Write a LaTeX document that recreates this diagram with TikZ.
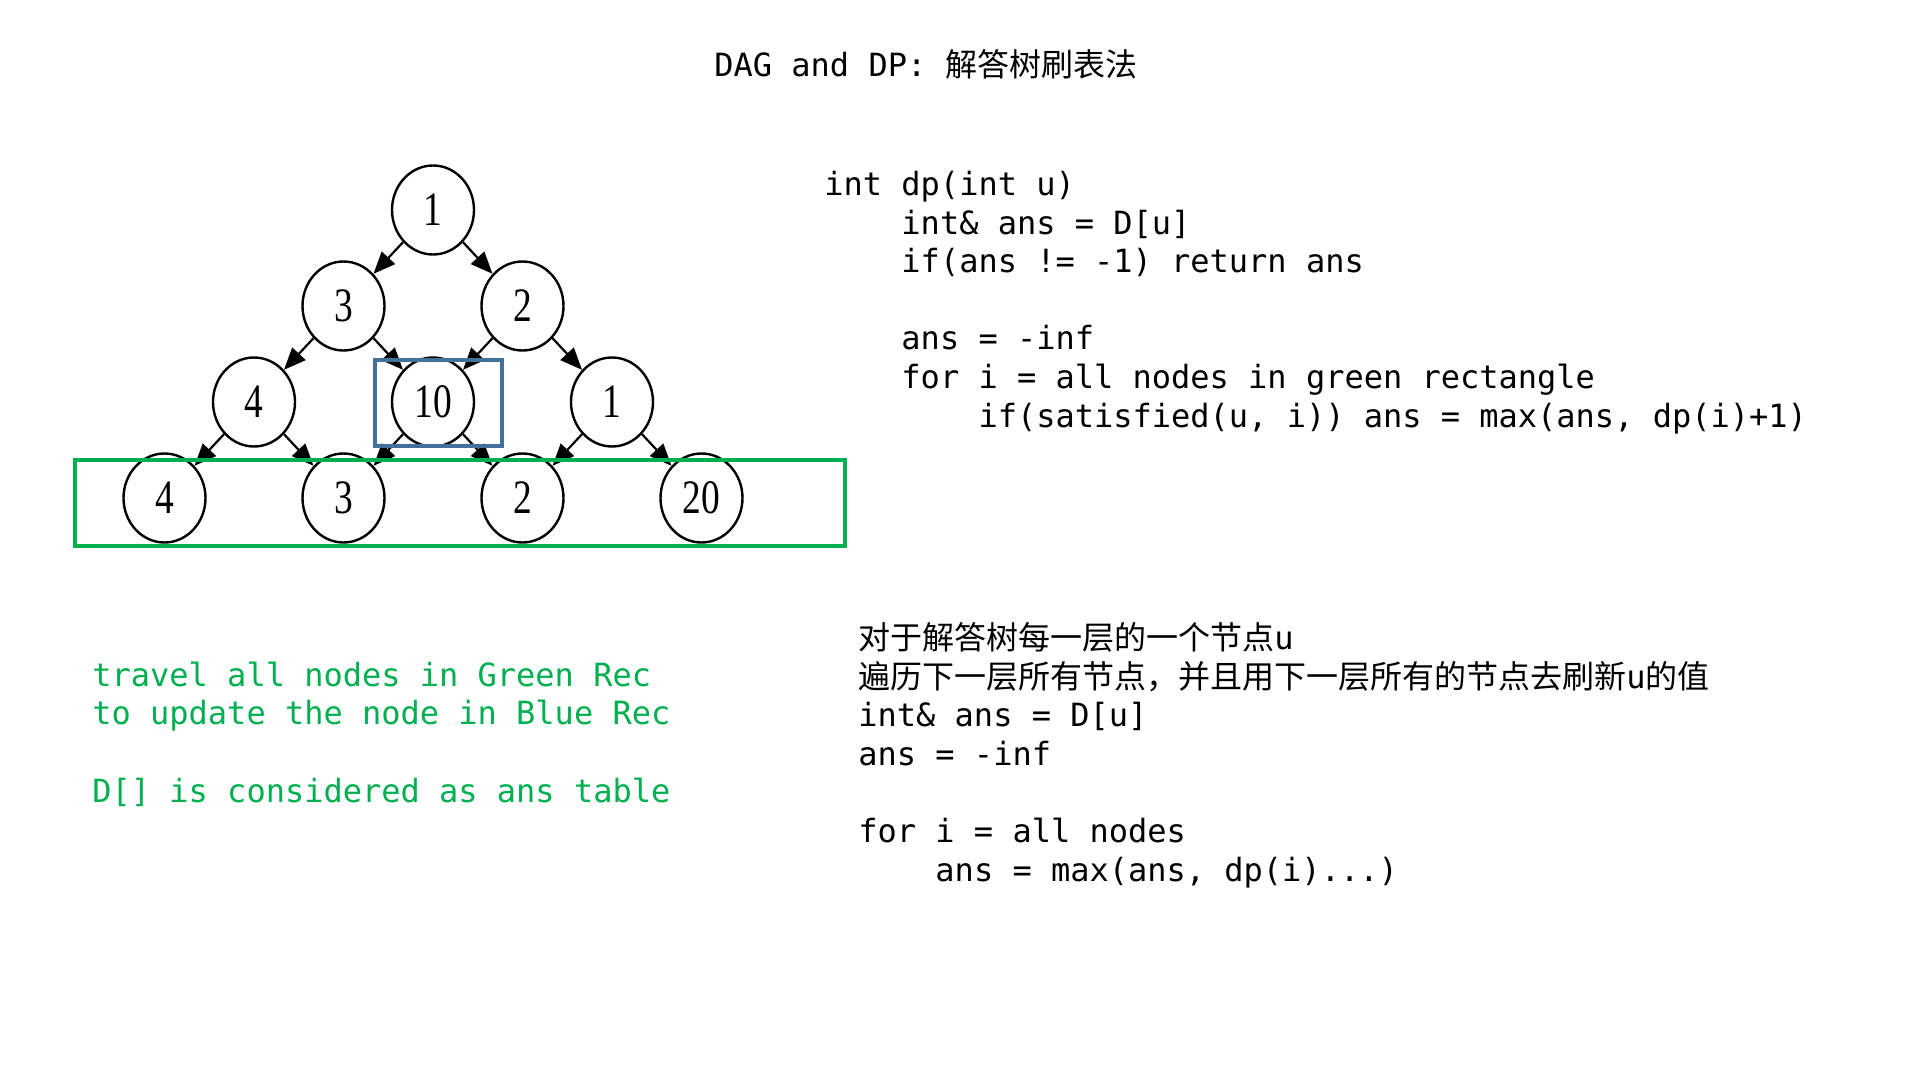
\documentclass[tikz,border=0pt]{standalone}
\usepackage{fontspec}
\usepackage{graphicx}
\setmainfont{Liberation Serif}
\setmonofont{DejaVu Sans Mono}
\newfontfamily\cjk{Noto Sans CJK SC}
\usetikzlibrary{positioning,shapes.geometric,arrows.meta}

\definecolor{recgreen}{RGB}{0,176,80}
\definecolor{recblue}{RGB}{65,113,156}
\newcommand\ind{\hphantom{xxxx}}
\newcommand\codefont{\ttfamily\fontsize{16}{19.3}\selectfont}
\newcommand\dig[1]{\scalebox{0.78}[1]{#1}}

\tikzset{
  vtx/.style={ellipse, draw, line width=1.2pt, minimum width=41pt,
    minimum height=44.5pt, inner sep=0pt, font=\fontsize{24}{24}\selectfont},
  dep/.style={-{Triangle[length=11pt,width=9pt]}, line width=1.1pt},
  code/.style={anchor=base west, align=left, inner sep=0pt, font=\codefont},
}

\begin{document}
\begin{tikzpicture}[x=0.5pt, y=-0.5pt, node distance=48pt and 44.75pt, on grid]

    \useasboundingbox (0,0) rectangle (1920,1080);

    % Title
    \node[code] (title) at (714,77) {DAG and DP: {\cjk 解答树刷表法}};

    % Define nodes
    \node[vtx]                        (r)   at (433,210) {\dig{1}};
    \node[vtx, below left=of r]       (a3)  {\dig{3}};
    \node[vtx, below right=of r]      (a2)  {\dig{2}};
    \node[vtx, below left=of a3]      (b4)  {\dig{4}};
    \node[vtx, below right=of a3]     (b10) {\dig{10}};
    \node[vtx, below right=of a2]     (b1)  {\dig{1}};
    \node[vtx, below left=of b4]      (c4)  {\dig{4}};
    \node[vtx, below right=of b4]     (c3)  {\dig{3}};
    \node[vtx, below right=of b10]    (c2)  {\dig{2}};
    \node[vtx, below right=of b1]     (c20) {\dig{20}};

    % Connect the nodes
    \foreach \p/\c in {r/a3, r/a2, a3/b4, a3/b10, a2/b10, a2/b1,
                       b4/c4, b4/c3, b10/c3, b10/c2, b1/c2, b1/c20}
      \draw[dep] (\p) -- (\c);

    % Rectangles
    \draw[recgreen, line width=2.4pt] (75,460) rectangle (845,546);
    \draw[recblue, line width=1.9pt] (375,360) rectangle (502,446);

    % Code (anchored at the baseline of the last line)
    \node[code] (dpcode) at (824,427) {int dp(int u)\\
      \ind int\& ans = D[u]\\
      \ind if(ans != -1) return ans\\[19.3pt]
      \ind ans = -inf\\
      \ind for i = all nodes in green rectangle\\
      \ind\ind if(satisfied(u, i)) ans = max(ans, dp(i)+1)};

    \node[code, text=recgreen] (note) at (92,802) {travel all nodes in Green Rec\\
      to update the node in Blue Rec\\[19.3pt]
      D[] is considered as ans table};

    \node[code] (steps) at (858,881) {{\cjk 对于解答树每一层的一个节点}u\\
      {\cjk 遍历下一层所有节点，并且用下一层所有的节点去刷新}u{\cjk 的值}\\
      int\& ans = D[u]\\
      ans = -inf\\[19.3pt]
      for i = all nodes\\
      \ind ans = max(ans, dp(i)...)};

\end{tikzpicture}
\end{document}
